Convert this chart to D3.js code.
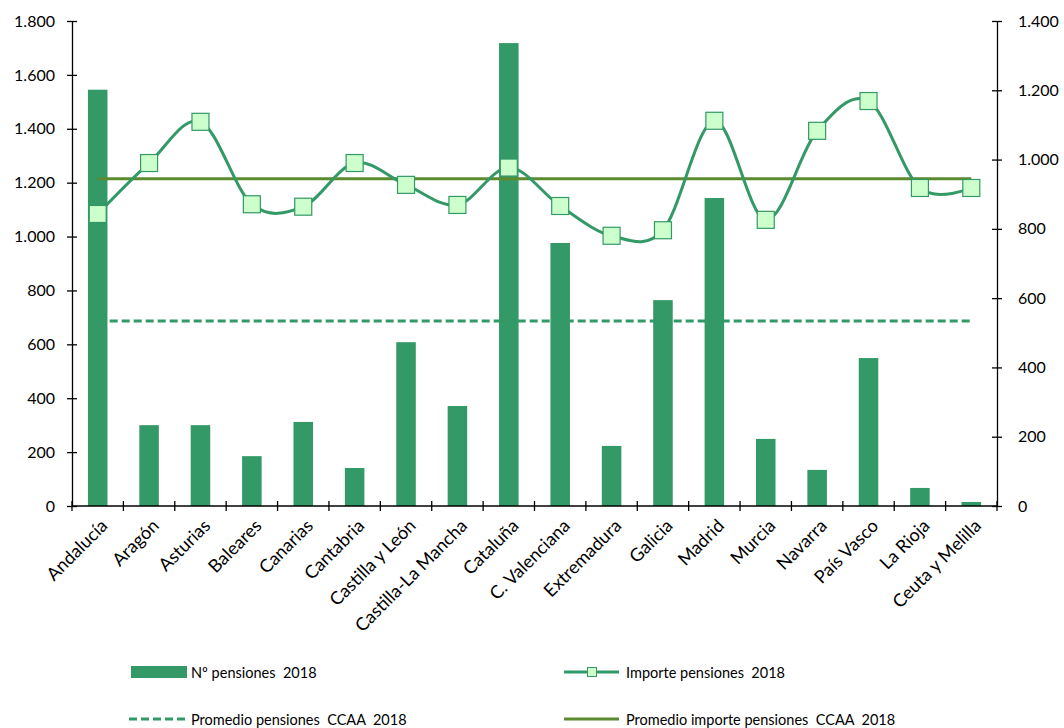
<!DOCTYPE html>
<html>
<head>
<meta charset="utf-8">
<script src="https://cdn.jsdelivr.net/npm/d3@7"></script>
<style>
html,body{margin:0;padding:0;background:#fff;overflow:hidden;}
svg{display:block;font-family:Lato,"Open Sans",sans-serif;}
.lg text{white-space:pre;}
</style>
</head>
<body>
<svg id="chart" width="1064" height="728"></svg>
<script>
const categories = ["Andalucía","Aragón","Asturias","Baleares","Canarias","Cantabria","Castilla y León","Castilla-La Mancha","Cataluña","C. Valenciana","Extremadura","Galicia","Madrid","Murcia","Navarra","País Vasco","La Rioja","Ceuta y Melilla"];
const numPensiones = [1545,300,300,185,312,141,608,371,1718,976,223,764,1143,249,134,549,67,15];
const importePensiones = [843,990,1109,871,864,990,927,869,977,866,780,796,1112,826,1083,1169,918,918];
const promedioPensiones = 687;
const promedioImporte = 945;
const leftTicks = [0,200,400,600,800,1000,1200,1400,1600,1800];
const rightTicks = [0,200,400,600,800,1000,1200,1400];
const legendLabels = ["Nº pensiones  2018","Importe pensiones  2018","Promedio pensiones  CCAA  2018","Promedio importe pensiones  CCAA  2018"];

const green = "#339966", olive = "#5b8a2f", markerFill = "#ccffcc";
const svg = d3.select("#chart");
const L = 72, R = 997, T = 21, B = 506;

const x = d3.scaleBand().domain(categories).range([L, R]).padding(0);
const yL = d3.scaleLinear().domain([0, 1800]).range([B, T]);
const yR = d3.scaleLinear().domain([0, 1400]).range([B, T]);
const loc = d3.formatLocale({decimal: ",", thousands: ".", grouping: [3], currency: ["", "€"]});
const fmt = loc.format(",d");

// bars
svg.append("g").selectAll("rect").data(categories).join("rect")
  .attr("x", d => x(d) + x.bandwidth() / 2 - x.bandwidth() * 0.19)
  .attr("width", x.bandwidth() * 0.38)
  .attr("y", (d, i) => yL(numPensiones[i]))
  .attr("height", (d, i) => yL(0) - yL(numPensiones[i]))
  .attr("fill", green);

// left axis
const gl = svg.append("g").attr("transform", `translate(${L},0)`)
  .call(d3.axisLeft(yL).tickValues(leftTicks).tickFormat(fmt).tickSize(5).tickPadding(12).tickSizeOuter(0));
gl.selectAll(".tick").append("line").attr("x2", 5).attr("stroke", "#000");
// right axis
const gr = svg.append("g").attr("transform", `translate(${R},0)`)
  .call(d3.axisRight(yR).tickValues(rightTicks).tickFormat(fmt).tickSize(5).tickPadding(16).tickSizeOuter(0));
gr.selectAll(".tick").append("line").attr("x2", -5).attr("stroke", "#000");
[gl, gr].forEach(g => {
  g.selectAll("text").attr("font-size", 16).attr("fill", "#000").attr("font-family", "Lato,sans-serif");
  g.select(".domain").attr("stroke", "#000").attr("stroke-width", 1.3);
  g.selectAll(".tick line").attr("stroke-width", 1.3);
});

// bottom axis
const gb = svg.append("g");
gb.append("line").attr("x1", L).attr("x2", R).attr("y1", B).attr("y2", B).attr("stroke", "#000").attr("stroke-width", 1.3);
const bounds = categories.map(c => x(c)).concat([x.range()[1]]);
gb.selectAll("line.tk").data(bounds).join("line").attr("class", "tk")
  .attr("x1", d => d).attr("x2", d => d).attr("y1", B - 5).attr("y2", B + 5)
  .attr("stroke", "#000").attr("stroke-width", 1.3);
gb.selectAll("text").data(categories).join("text")
  .attr("transform", d => `translate(${x(d) + x.bandwidth() / 2 + 6},${B + 16}) rotate(-45)`)
  .attr("text-anchor", "end").attr("dominant-baseline", "central")
  .attr("font-size", 18).attr("fill", "#000").text(d => d);

const xc = d => x(d) + x.bandwidth() / 2;
const x0 = xc(categories[0]), x1 = xc(categories[categories.length - 1]);

// average lines
svg.append("line").attr("x1", x0).attr("x2", x1).attr("y1", yL(promedioPensiones)).attr("y2", yL(promedioPensiones))
  .attr("stroke", green).attr("stroke-width", 3).attr("stroke-dasharray", "8,4");
svg.append("line").attr("x1", x0).attr("x2", x1).attr("y1", yR(promedioImporte)).attr("y2", yR(promedioImporte))
  .attr("stroke", olive).attr("stroke-width", 3);

// importe line
const line = d3.line().x((d, i) => xc(categories[i])).y(d => yR(d)).curve(d3.curveCardinal.tension(0));
svg.append("path").datum(importePensiones).attr("d", line)
  .attr("fill", "none").attr("stroke", green).attr("stroke-width", 3);
svg.append("g").selectAll("rect").data(importePensiones).join("rect")
  .attr("x", (d, i) => xc(categories[i]) - 8.5).attr("y", d => yR(d) - 8.5)
  .attr("width", 17).attr("height", 17)
  .attr("fill", markerFill).attr("stroke", green).attr("stroke-width", 1.2);

// legend
const lg = svg.append("g").attr("class", "lg").attr("font-size", 14.5).attr("fill", "#000");
lg.append("rect").attr("x", 131).attr("y", 666).attr("width", 56).attr("height", 12).attr("fill", green);
lg.append("text").attr("x", 191).attr("y", 672).attr("dominant-baseline", "central").text(legendLabels[0]);
lg.append("line").attr("x1", 564).attr("x2", 619).attr("y1", 672).attr("y2", 672).attr("stroke", green).attr("stroke-width", 3);
lg.append("rect").attr("x", 587.5).attr("y", 667.5).attr("width", 9).attr("height", 9).attr("fill", markerFill).attr("stroke", green).attr("stroke-width", 1);
lg.append("text").attr("x", 626).attr("y", 672).attr("dominant-baseline", "central").text(legendLabels[1]);
lg.append("line").attr("x1", 129).attr("x2", 186).attr("y1", 719).attr("y2", 719).attr("stroke", green).attr("stroke-width", 3).attr("stroke-dasharray", "8,4");
lg.append("text").attr("x", 191).attr("y", 719).attr("dominant-baseline", "central").text(legendLabels[2]);
lg.append("line").attr("x1", 564).attr("x2", 619).attr("y1", 719).attr("y2", 719).attr("stroke", olive).attr("stroke-width", 3);
lg.append("text").attr("x", 626).attr("y", 719).attr("dominant-baseline", "central").text(legendLabels[3]);
</script>
</body>
</html>
